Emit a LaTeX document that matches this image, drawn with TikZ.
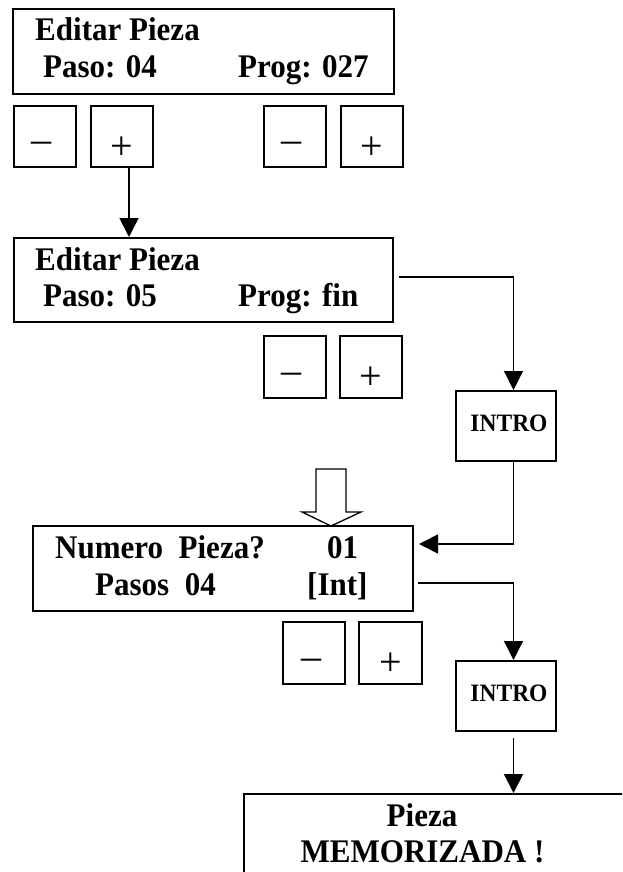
\documentclass[tikz,border=0pt]{standalone}
\usepackage{fontspec}
\setmainfont{Liberation Serif}
\usetikzlibrary{arrows.meta}
\newcommand\lcdfont{\fontsize{33}{38}\selectfont\bfseries}
\newcommand\introfont{\fontsize{25}{29}\selectfont\bfseries}
\newcommand\symfont{\fontsize{40}{44}\selectfont}
\newcommand\sq[1]{\scalebox{0.94}[1]{#1}}
\begin{document}
\begin{tikzpicture}[x=1pt,y=-1pt,
  box/.style={draw, line width=2pt, inner sep=0pt},
  lcd/.style={box, minimum width=380pt, minimum height=85pt},
  btn/.style={box, minimum width=62pt, minimum height=61pt},
  intro/.style={box, minimum width=100pt, minimum height=70pt},
  txt/.style={font=\lcdfont, anchor=base west, inner sep=0pt},
  ctxt/.style={font=\lcdfont, anchor=base, inner sep=0pt},
  itxt/.style={font=\introfont, anchor=base, inner sep=0pt},
  sym/.style={font=\symfont, inner sep=0pt, anchor=base},
  minus/.style={sym},
  arr/.style={line width=1.8pt, -{Triangle[length=19pt,width=19pt]}},
  tarr/.style={line width=1.2pt, -{Triangle[length=19pt,width=19pt]}}]
\useasboundingbox (0,0) rectangle (622,872);
\clip (0,0) rectangle (622,872);
\fill[white] (0,0) rectangle (622,872);

% ---- screen 1
\node[lcd, minimum width=381pt] (b1) at (203.5,51.5) {};
\node[txt] (b1a) at (35,41) {\sq{Editar Pieza}};
\node[txt] (b1b) at (43,78) {\sq{Paso: 04}};
\node[txt] (b1c) at (238,78) {\sq{Prog: 027}};
\node[btn] (m1) at (44.5,136.5) {};
\node[btn] (p1) at (122,136.5) {};
\node[btn] (m2) at (294.5,136.5) {};
\node[btn] (p2) at (371.5,136.5) {};
\node[minus] (m1s) at ([shift={(-3,16)}]m1) {–};
\node[sym] (p1s) at ([shift={(0,22.5)}]p1) {+};
\node[minus] (m2s) at ([shift={(-3,16)}]m2) {–};
\node[sym] (p2s) at ([shift={(0,22.5)}]p2) {+};

% ---- screen 2
\node[lcd, minimum width=379pt, minimum height=84pt] (b2) at (203.5,280) {};
\node[txt] (b2a) at (35,270) {\sq{Editar Pieza}};
\node[txt] (b2b) at (43,306) {\sq{Paso: 05}};
\node[txt] (b2c) at (238,306) {\sq{Prog: fin}};
\node[btn, minimum height=62pt] (m3) at (294.5,367) {};
\node[btn, minimum height=62pt] (p3) at (371,367) {};
\node[minus] (m3s) at ([shift={(-3,16)}]m3) {–};
\node[sym] (p3s) at ([shift={(0,22.5)}]p3) {+};

\draw[arr] ([xshift=7pt]p1.south) -- ([xshift=7pt]p1.south |- b2.north);

% ---- INTRO 1
\node[intro] (i1) at (506,426) {};
\node[itxt] (i1t) at (509,431) {\sq{INTRO}};
\draw[tarr] ([shift={(5,-3)}]b2.east) -| ([xshift=7.5pt]i1.north);

% ---- screen 3
\node[lcd] (b3) at (223,568.5) {};
\node[txt] (b3a) at (55,558) {\sq{Numero~~Pieza?}};
\node[txt] (b3b) at (327,558) {\sq{01}};
\node[txt] (b3c) at (95,595) {\sq{Pasos~~04}};
\node[txt] (b3d) at (307,595) {\sq{[Int]}};
\draw[line width=1.3pt, line join=miter]
  (316,469) -- (346,469) -- (346,512) -- (361,512) -- (331,526)
  -- (302,512) -- (316,512) -- cycle;
\draw[arr] ([xshift=7.5pt]i1.south) |- ([shift={(5,-24.5)}]b3.east);

\node[btn, minimum height=62pt] (m4) at (314,653) {};
\node[btn, minimum height=62pt, minimum width=63pt] (p4) at (390.5,653) {};
\node[minus] (m4s) at ([shift={(-3,16)}]m4) {–};
\node[sym] (p4s) at ([shift={(0,22.5)}]p4) {+};

% ---- INTRO 2
\node[intro] (i2) at (506,696) {};
\node[itxt] (i2t) at (509,701) {\sq{INTRO}};
\draw[tarr] ([shift={(4,14.5)}]b3.east) -| ([xshift=7.5pt]i2.north);

% ---- final screen
\node[box, minimum width=396pt, minimum height=120pt] (b4) at (442,854) {};
\node[ctxt] (b4a) at (422,826) {\sq{Pieza}};
\node[ctxt] (b4b) at (422.5,862) {\sq{MEMORIZADA !}};
\draw[arr] ([shift={(7.5,6)}]i2.south) -- ([xshift=7.5pt]i2.south |- b4.north);
\end{tikzpicture}
\end{document}
